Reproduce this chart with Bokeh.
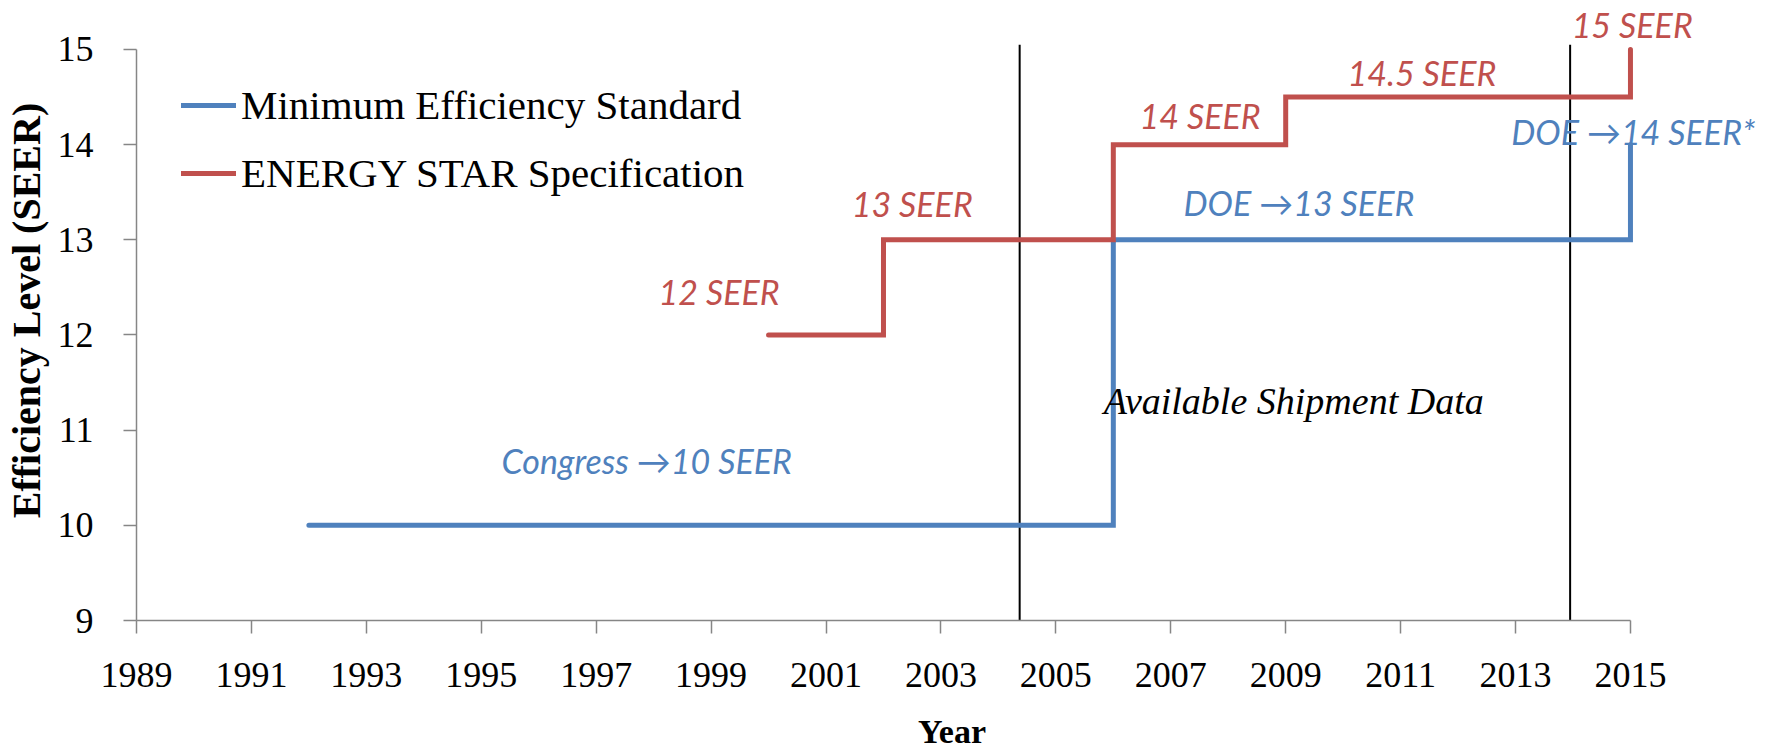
from bokeh.plotting import figure
from bokeh.models import FixedTicker, Range1d, Legend, LegendItem
from bokeh.embed import file_html
from bokeh.resources import INLINE
from bokeh.core.properties import value

# ---- data ----
year_ticks = list(range(1989, 2016, 2))
seer_ticks = [9, 10, 11, 12, 13, 14, 15]

min_std_years = [1992, 2006, 2015]
min_std_seer = [10, 13, 14]

estar_years = [2000, 2002, 2006, 2009, 2015]
estar_seer = [12, 13, 14, 14.5, 15]

shipment_bounds = [2004.37, 2013.95]
shipment_low = [9, 9]
shipment_high = [15.05, 15.05]

red_labels = ["12 SEER", "13 SEER", "14 SEER", "14.5 SEER", "15 SEER"]
red_label_x = [1999.14, 2002.5, 2007.51, 2011.37, 2015.03]
red_label_y = [12.46, 13.38, 14.31, 14.76, 15.26]

blue_labels = ["Congress \u219210 SEER", "DOE \u219213 SEER", "DOE \u219214 SEER*"]
blue_label_x = [1997.88, 2009.23, 2015.05]
blue_label_y = [10.68, 13.39, 14.14]

note_label = ["Available Shipment Data"]
note_x = [2009.14]
note_y = [11.31]

BLUE = "#4F81BD"
RED = "#C0504D"
SERIF = "Liberation Serif"
SANS = "Lato"

PX_YEAR = 57.46
PX_SEER = 95.17
FRAME_W = 1631
FRAME_H = 620

p = figure(frame_width=FRAME_W, frame_height=FRAME_H, output_backend="svg", toolbar_location=None,
           x_range=Range1d(1989, 1989 + FRAME_W / PX_YEAR),
           y_range=Range1d(9, 9 + FRAME_H / PX_SEER),
           min_border_left=130, min_border_right=0, min_border_top=0, min_border_bottom=120)
p.outline_line_color = None
p.xgrid.grid_line_color = None
p.ygrid.grid_line_color = None
p.background_fill_color = "white"

# shipment window lines
p.segment(x0=shipment_bounds, y0=shipment_low, x1=shipment_bounds, y1=shipment_high,
          line_color="black", line_width=2)

r_blue = p.step(min_std_years, min_std_seer, mode="after", line_color=BLUE, line_width=5,
                line_cap="round", line_join="miter")
r_red = p.step(estar_years, estar_seer, mode="after", line_color=RED, line_width=5,
               line_cap="round", line_join="miter")

p.text(x=red_label_x, y=red_label_y, text=red_labels, text_color=RED,
       text_font=value(SANS), text_font_style="italic", text_font_size="34px",
       text_align="center", text_baseline="middle")
p.text(x=blue_label_x, y=blue_label_y, text=blue_labels, text_color=BLUE,
       text_font=value(SANS), text_font_style="italic", text_font_size="34px",
       text_align="center", text_baseline="middle")
p.text(x=note_x, y=note_y, text=note_label, text_color="black",
       text_font=value(SERIF), text_font_style="italic", text_font_size="38px",
       text_align="center", text_baseline="middle")

legend = Legend(items=[LegendItem(label="Minimum Efficiency Standard", renderers=[r_blue]),
                       LegendItem(label="ENERGY STAR Specification", renderers=[r_red])],
                location=(45, 423), orientation="vertical",
                label_text_font=SERIF, label_text_font_size="41px", label_text_color="black",
                glyph_width=55, glyph_height=46, label_height=46, label_standoff=5,
                spacing=20, padding=0, margin=0,
                border_line_color=None, background_fill_alpha=0)
p.add_layout(legend, "center")

for ax in (p.xaxis[0], p.yaxis[0]):
    ax.axis_line_color = "#868686"
    ax.axis_line_width = 1.5
    ax.major_tick_line_color = "#868686"
    ax.major_tick_line_width = 1.5
    ax.major_tick_out = 13
    ax.major_tick_in = 0
    ax.minor_tick_line_color = None
    ax.major_label_text_font = SERIF
    ax.major_label_text_font_size = "36px"
    ax.major_label_text_color = "black"
    ax.axis_label_text_font = SERIF
    ax.axis_label_text_font_style = "bold"
    ax.axis_label_text_color = "black"

p.xaxis.ticker = FixedTicker(ticks=year_ticks)
p.yaxis.ticker = FixedTicker(ticks=seer_ticks)
p.xaxis.bounds = (1989, 2015)
p.yaxis.bounds = (9, 15)
p.xaxis.axis_label = "Year"
p.yaxis.axis_label = "Efficiency Level (SEER)"
p.xaxis.axis_label_text_font_size = "34px"
p.yaxis.axis_label_text_font_size = "40px"
p.xaxis.major_label_standoff = 29
p.yaxis.major_label_standoff = 30
p.xaxis.axis_label_standoff = 23
p.yaxis.axis_label_standoff = 6

open("out.html", "w").write(file_html(p, INLINE))
